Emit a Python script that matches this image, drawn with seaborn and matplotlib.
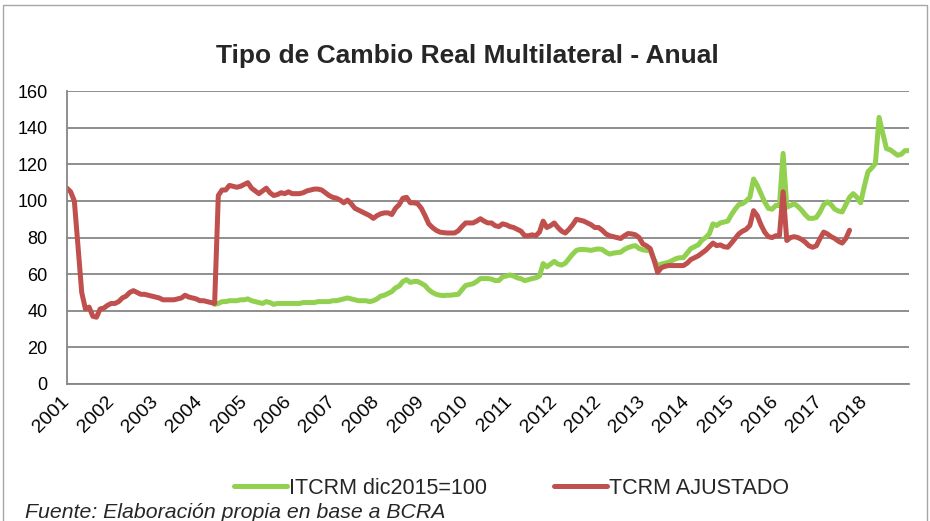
import numpy as np
import pandas as pd
import matplotlib
matplotlib.use("Agg")
import matplotlib.pyplot as plt
import seaborn as sns

# datos mensuales (ene 2001 en adelante)
tcrm_ajustado = [
    107, 105, 100, 75, 50, 41, 42, 37, 36.5, 41, 41.5, 43,
    44, 44, 45, 47, 48, 50, 51, 50, 49, 49, 48.5, 48,
    47.5, 47, 46, 46, 46, 46, 46.5, 47, 48.5, 47.5, 47, 46.5,
    45.5, 45.5, 45, 44.5, 44, 103, 106, 106, 108.5, 108, 107.5, 108,
    109, 110, 107, 105.5, 104, 105.5, 107, 104.5, 103, 103.5, 104.5, 104,
    105, 104, 104, 104, 104.5, 105.5, 106, 106.5, 106.5, 106, 104.5, 103,
    102, 101.5, 100.5, 99, 100.5, 98.5, 96, 95, 94, 93, 92, 90.5,
    92, 93, 93.5, 93.5, 92.6, 96, 98, 101.5, 102, 99, 99, 98.5,
    96, 92, 87.5, 85.5, 84, 83, 82.7, 82.5, 82.5, 82.5, 83.7, 86,
    88, 88, 88, 89, 90.3, 89, 88, 88, 86.5, 86, 87.5, 87,
    86, 85.5, 84.5, 83.5, 81, 81, 81.5, 81, 83, 89, 85.5, 86.5,
    88, 85.5, 83.5, 82.5, 84.5, 87, 90, 89.5, 89, 88, 87, 85.5,
    85.5, 84, 82, 81, 80.5, 80, 79.5, 81, 82.2, 82, 81.5, 80,
    76.5, 75.5, 74, 68, 61, 63.5, 64.3, 64.7, 64.7, 64.7, 64.7, 64.7,
    66, 68, 69, 70, 71.5, 73, 75, 77, 75.6, 76, 75, 74.7,
    77, 79.5, 82, 83.5, 84.5, 86.6, 94.7, 92, 87, 83, 80.5, 80,
    81, 81, 105, 78.4, 80, 80.5, 80, 79, 77.5, 75.5, 74.7, 75.5,
    79.5, 83, 82, 80.5, 79.5, 78, 77, 79.5, 84,
]

itcrm_inicio = 40  # mayo 2004
itcrm = [
    43.5, 44, 45, 45, 45.5, 45.5, 45.5, 46,
    46, 46.5, 45.5, 45, 44.5, 44, 45, 44.5, 43.5, 44, 44, 44,
    44, 44, 44, 44, 44.5, 44.5, 44.5, 44.5, 45, 45, 45, 45,
    45.5, 45.5, 46, 46.5, 47, 46.5, 46, 45.5, 45.5, 45.5, 45, 45.5,
    46.5, 48, 48.5, 49.5, 50.5, 52.5, 53.5, 56, 57, 55.5, 56, 56,
    55, 53.8, 51.5, 50, 49, 48.5, 48.3, 48.5, 48.5, 48.8, 49, 51.5,
    53.8, 54.3, 54.8, 56, 57.6, 57.6, 57.6, 57.3, 56.5, 56.5, 58.5, 59,
    59.6, 59, 58, 57.5, 56.5, 57, 57.6, 58, 59, 65.8, 64, 65.5,
    67, 65.5, 65, 66, 68.5, 71, 73, 73.5, 73.5, 73.3, 73, 73.5,
    73.8, 73.5, 72, 71, 71.5, 71.8, 72, 73.5, 74.5, 75.2, 75.6, 74,
    73.3, 73, 73, 68, 64.7, 65.5, 66, 66.5, 67.5, 68.5, 69, 69,
    71.5, 74, 75, 76, 78.5, 80, 82, 87.5, 86.6, 88, 88.5, 89,
    92.5, 95.5, 98, 98.5, 100, 102, 112, 108.5, 104, 99.5, 96, 95.5,
    97.5, 97.5, 126, 96.6, 97.5, 98.5, 97, 95, 92.5, 90.5, 90.5, 91,
    94, 98, 99.5, 98, 95.5, 94.5, 94, 98, 102, 104, 102, 99,
    108, 116, 118, 120.5, 145.7, 137, 128.6, 128, 126.5, 125, 125.5, 127.5, 127.5,
]

etiquetas = ["2001", "2002", "2003", "2004", "2005", "2006", "2007", "2008",
             "2009", "2010", "2011", "2012", "2012", "2013", "2014", "2015",
             "2016", "2017", "2018", ""]

verde = "#92D050"
rojo = "#C0504D"
gris = "#868686"

n = itcrm_inicio + len(itcrm)
meses = np.arange(n)
df = pd.DataFrame({
    "mes": meses,
    "ITCRM dic2015=100": [np.nan] * itcrm_inicio + itcrm,
    "TCRM AJUSTADO": tcrm_ajustado + [np.nan] * (n - len(tcrm_ajustado)),
})

sns.set_style("white")
plt.rcParams["font.family"] = ["Liberation Sans", "DejaVu Sans"]

fig = plt.figure(figsize=(9.3, 5.21), dpi=100)
ax = fig.add_axes([0.072, 0.263, 0.905, 0.562])

sns.lineplot(data=df, x="mes", y="ITCRM dic2015=100", color=verde, lw=3.6,
             ax=ax, label="ITCRM dic2015=100")
sns.lineplot(data=df, x="mes", y="TCRM AJUSTADO", color=rojo, lw=3.6,
             ax=ax, label="TCRM AJUSTADO")

ax.set_xlim(0, n - 1)
ax.set_ylim(0, 160)
ax.set_yticks(range(0, 161, 20))
ax.set_xticks(range(0, n, 12))
ax.set_xticklabels(etiquetas, rotation=45, ha="right", va="center",
                   rotation_mode="anchor", fontsize=14)
ax.tick_params(axis="y", labelsize=13)
ax.tick_params(axis="both", colors="black", length=5, width=1.2,
               direction="out")
ax.tick_params(axis="x", color=gris, pad=6)
ax.tick_params(axis="y", color=gris, pad=9)
ax.set_xlabel("")
ax.set_ylabel("")
ax.yaxis.grid(True, color=gris, lw=1.3)
ax.set_axisbelow(True)
for lado in ["top", "right"]:
    ax.spines[lado].set_visible(False)
for lado in ["left", "bottom"]:
    ax.spines[lado].set_color(gris)
    ax.spines[lado].set_linewidth(1.3)

ax.get_legend().remove()
h, l = ax.get_legend_handles_labels()
fig.legend(h, l, loc="center", bbox_to_anchor=(0.55, 0.063), ncol=2,
           frameon=False, fontsize=15.5, handlelength=2.45, columnspacing=3.1,
           handletextpad=0.1)

fig.text(0.503, 0.893, "Tipo de Cambio Real Multilateral - Anual",
         ha="center", va="center", fontsize=19, fontweight="bold")
fig.text(0.027, 0.016, "Fuente: Elaboración propia en base a BCRA",
         ha="left", va="center", fontsize=15.3, style="italic")

marco = plt.Rectangle((0.003, -0.01), 0.994, 1.0, transform=fig.transFigure,
                      fill=False, edgecolor="#a6a6a6", lw=1)
fig.patches.append(marco)

plt.savefig("out.png", dpi=100)
